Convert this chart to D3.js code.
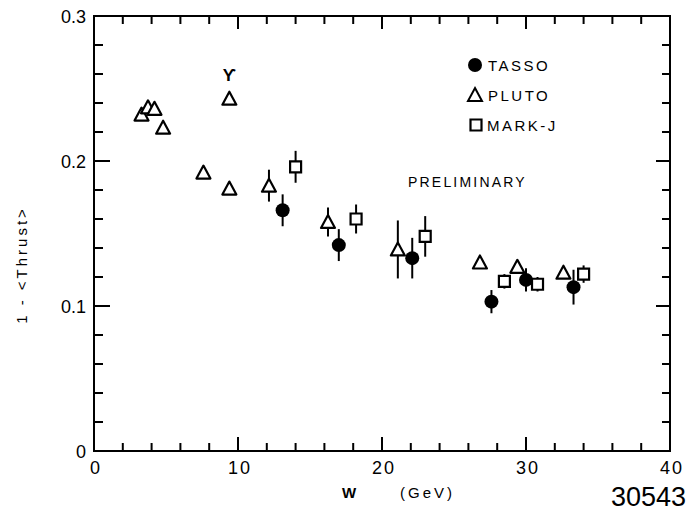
<!DOCTYPE html>
<html>
<head>
<meta charset="utf-8">
<script src="https://cdn.jsdelivr.net/npm/d3@7"></script>
<style>
body{margin:0;background:#fff;}
text{font-family:"Liberation Sans","DejaVu Sans",sans-serif;fill:#000;}
</style>
</head>
<body>
<svg id="chart" width="687" height="513"></svg>
<script>
// data (W in GeV, 1-<Thrust>)
var tassoW=[13.1,17.0,22.1,27.6,30.0,33.3];
var tassoT=[0.166,0.142,0.133,0.103,0.118,0.113];
var tassoErr=[0.011,0.011,0.014,0.008,0.008,0.012];

var plutoW=[3.3,3.75,4.2,4.8,7.6,9.4,9.4,12.15,16.25,21.1,26.8,29.4,32.6];
var plutoT=[0.232,0.237,0.236,0.223,0.192,0.181,0.243,0.183,0.158,0.139,0.130,0.127,0.123];
var plutoErr=[0,0,0,0,0,0,0,0.011,0.010,0.020,0,0,0];

var markjW=[14.0,18.2,23.0,28.5,30.8,34.0];
var markjT=[0.196,0.160,0.148,0.117,0.115,0.122];
var markjErr=[0.011,0.010,0.014,0.005,0.005,0.006];

var xTicks=[0,10,20,30,40];
var yTicks=[0,0.1,0.2,0.3];
var yTickLabels=["0","0.1","0.2","0.3"];

var svg=d3.select("#chart");
var x=d3.scaleLinear().domain([0,40]).range([94,670]);
var y=d3.scaleLinear().domain([0,0.3]).range([451,16]);

svg.append("rect").attr("x",x(0)).attr("y",y(0.3))
	.attr("width",x(40)-x(0)).attr("height",y(0)-y(0.3))
	.attr("fill","none").attr("stroke","#000").attr("stroke-width",2);

////////// inward ticks on all four sides (one path)
var ticksD="";
for(var i=1;i<20;i++){
	var xv=x(i*2), bx=(i%5==0);
	ticksD+="M"+xv+","+y(0)+"V"+(y(0)-(bx?14:8));
	ticksD+="M"+xv+","+y(0.3)+"V"+(y(0.3)+(bx?13:8));
}
for(var j=1;j<15;j++){
	var yv=y(j*0.02), by=(j%5==0);
	ticksD+="M"+x(0)+","+yv+"H"+(x(0)+(by?16:9));
	ticksD+="M"+x(40)+","+yv+"H"+(x(40)-(by?14:8));
}
svg.append("path").attr("d",ticksD).attr("fill","none").attr("stroke","#000").attr("stroke-width",2);

// tick labels
svg.selectAll(".xl").data(xTicks).enter().append("text")
	.attr("x",function(d){return x(d)+2;}).attr("y",474)
	.attr("text-anchor","middle").attr("font-size",18).attr("letter-spacing",2)
	.text(function(d){return d;});
svg.selectAll(".yl").data(yTicks).enter().append("text")
	.attr("x",86).attr("y",function(d){return y(d)+7;})
	.attr("text-anchor","end").attr("font-size",18)
	.text(function(d,i){return yTickLabels[i];});

// axis titles
svg.append("text").attr("transform","translate(27,265) rotate(-90)")
	.attr("text-anchor","middle").attr("font-size",15).attr("letter-spacing",3)
	.text("1 - <Thrust>");
svg.append("text").attr("x",342).attr("y",498).attr("font-size",15).attr("font-weight","bold").text("W");
svg.append("text").attr("x",400).attr("y",498).attr("font-size",15).attr("letter-spacing",3).text("(GeV)");
svg.append("text").attr("x",686).attr("y",506).attr("text-anchor","end")
	.attr("font-size",27).attr("font-family","DejaVu Sans").attr("font-weight",200).text("30543");

////////// error bars
function errBars(ws,ts,es){
	var g=svg.append("g").attr("stroke","#000").attr("stroke-width",2);
	ws.forEach(function(d,i){
		if(es[i]<=0) return;
		g.append("line").attr("x1",x(d)).attr("x2",x(d))
			.attr("y1",y(ts[i]+es[i])).attr("y2",y(ts[i]-es[i]));
	});
}
errBars(tassoW,tassoT,tassoErr);
errBars(plutoW,plutoT,plutoErr);
errBars(markjW,markjT,markjErr);

////////// markers
var triPath="M0,-7L7,6L-7,6Z";
var sqPath="M-5.5,-5.5H5.5V5.5H-5.5Z";

function triangles(ws,ts){
	svg.append("g").selectAll("path").data(ws).enter().append("path")
		.attr("d",triPath)
		.attr("transform",function(d,i){return "translate("+x(d)+","+y(ts[i])+")";})
		.attr("fill","#fff").attr("stroke","#000").attr("stroke-width",2.2).attr("stroke-linejoin","round");
}
function squares(ws,ts){
	svg.append("g").selectAll("path").data(ws).enter().append("path")
		.attr("d",sqPath)
		.attr("transform",function(d,i){return "translate("+x(d)+","+y(ts[i])+")";})
		.attr("fill","#fff").attr("stroke","#000").attr("stroke-width",2.2);
}
function circles(ws,ts){
	svg.append("g").selectAll("circle").data(ws).enter().append("circle")
		.attr("cx",function(d){return x(d);}).attr("cy",function(d,i){return y(ts[i]);})
		.attr("r",7).attr("fill","#000");
}
triangles(plutoW,plutoT);
squares(markjW,markjT);
circles(tassoW,tassoT);

// upsilon marker above the resonance point
svg.append("text").attr("x",x(9.4)).attr("y",y(0.243)-18)
	.attr("text-anchor","middle").attr("font-size",17).attr("font-weight","bold")
	.attr("font-family","DejaVu Sans").text("ϒ");

////////// legend
var legend=[{name:"TASSO",type:"c"},{name:"PLUTO",type:"t"},{name:"MARK-J",type:"s"}];
var lg=svg.append("g");
legend.forEach(function(l,i){
	var cy=65+i*30;
	if(l.type=="c") lg.append("circle").attr("cx",475).attr("cy",cy).attr("r",7).attr("fill","#000");
	if(l.type=="t") lg.append("path").attr("d",triPath).attr("transform","translate(475,"+cy+")")
		.attr("fill","#fff").attr("stroke","#000").attr("stroke-width",2);
	if(l.type=="s") lg.append("path").attr("d",sqPath).attr("transform","translate(476,"+cy+")")
		.attr("fill","#fff").attr("stroke","#000").attr("stroke-width",2.2);
	lg.append("text").attr("x",l.type=="s"?487:488).attr("y",cy+6).attr("font-size",15)
		.attr("letter-spacing",2.5).text(l.name);
});
svg.append("text").attr("x",408).attr("y",187).attr("font-size",14)
	.attr("letter-spacing",2.2).text("PRELIMINARY");
</script>
</body>
</html>
